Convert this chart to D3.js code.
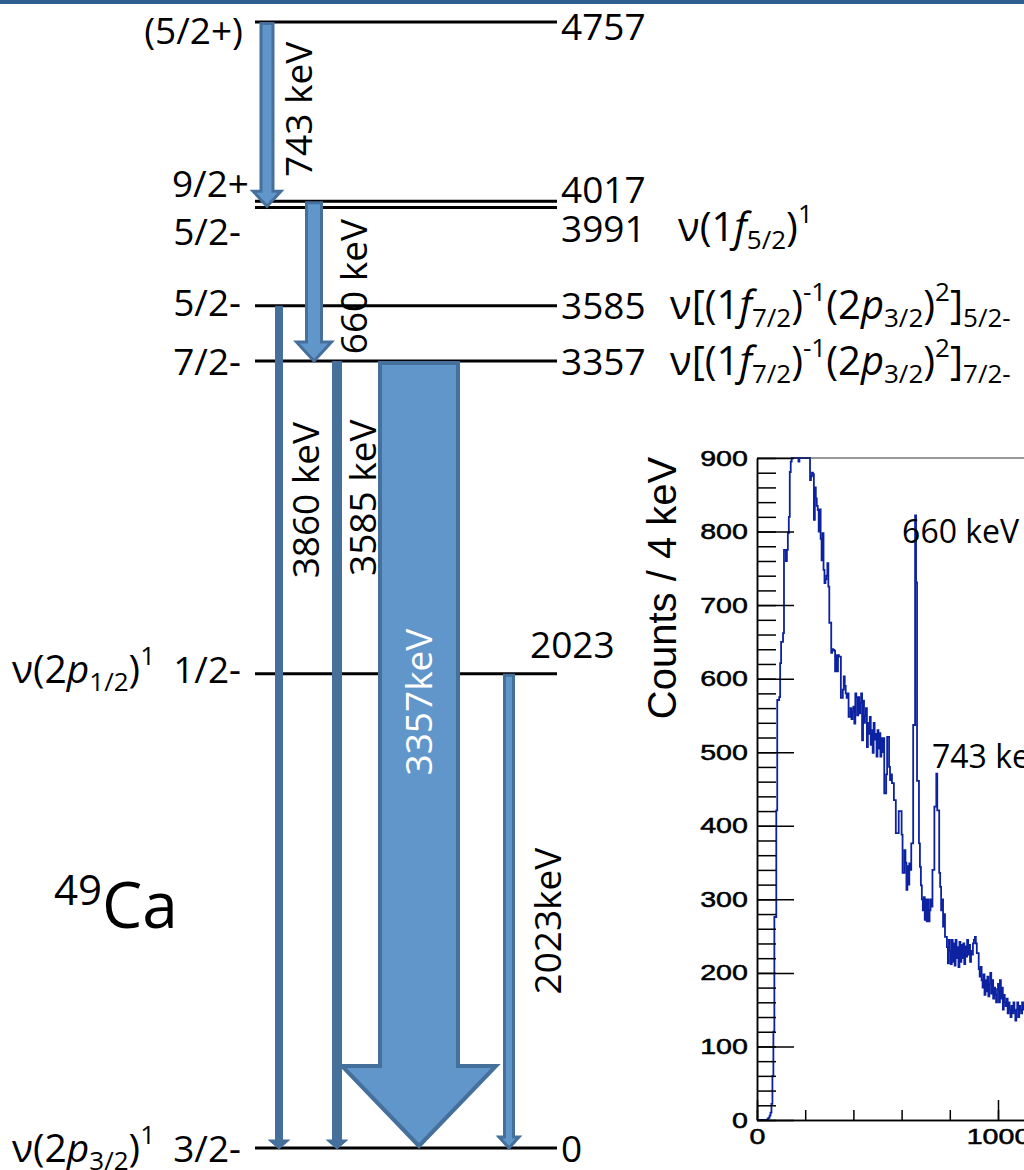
<!DOCTYPE html>
<html lang="en">
<head>
<meta charset="UTF-8">
<title>49Ca level scheme</title>
<script src="https://d3js.org/d3.v7.min.js"></script>
<style>
  body { margin: 0; background: #fff; }
  svg { display: block; }
  .scheme text { font-family: "Open Sans", "Noto Sans", sans-serif; fill: #000; }
  .spec .tick text { font-family: "Liberation Sans", Arial, sans-serif; font-size: 22px; fill: #000; stroke: #000; stroke-width: 0.5px; }
</style>
</head>
<body>
<svg width="1024" height="1170"></svg>
<script>
// ---- level scheme data ----
const levelEnergy = [4757, 4017, 3991, 3585, 3357, 2023, 0];
const levelSpin = ["(5/2+)", "9/2+", "5/2-", "5/2-", "7/2-", "1/2-", "3/2-"];
const levelLabel = ["4757", "4017", "3991", "3585", "3357", "2023", "0"];

// configuration labels, pieces: "" normal, "i" italic, "b" subscript, "p" superscript
const configRightEnergy = [3991, 3585, 3357];
const configRightParts = [
  [["ν(1", ""], ["f", "i"], ["5/2", "b"], [")", ""], ["1", "p"]],
  [["ν[(1", ""], ["f", "i"], ["7/2", "b"], [")", ""], ["-1", "p"], ["(2", ""], ["p", "i"], ["3/2", "b"], [")", ""], ["2", "p"], ["]", ""], ["5/2-", "b"]],
  [["ν[(1", ""], ["f", "i"], ["7/2", "b"], [")", ""], ["-1", "p"], ["(2", ""], ["p", "i"], ["3/2", "b"], [")", ""], ["2", "p"], ["]", ""], ["7/2-", "b"]]
];
const configLeftEnergy = [2023, 0];
const configLeftParts = [
  [["ν(2", ""], ["p", "i"], ["1/2", "b"], [")", ""], ["1", "p"]],
  [["ν(2", ""], ["p", "i"], ["3/2", "b"], [")", ""], ["1", "p"]]
];

const gammaFrom = [4757, 4017, 3585, 3357, 3357, 2023];
const gammaTo = [4017, 3357, 0, 0, 0, 0];
const gammaLabel = ["743 keV", "660 keV", "3860 keV", "3585 keV", "3357keV", "2023keV"];

// ---- spectrum data (counts per 4 keV bin, starting at 0 keV) ----
const binWidth = 4;
const counts = [
  0, 0, 0, 0, 0, 0, 0, 0, 0, 0, 0, 2, 3, 6, 10, 22, 60, 120, 276, 276, 421, 571, 571, 575, 621,
  650, 650, 662, 775, 775, 760, 775, 798, 820, 881, 895, 925, 940, 955, 950, 965, 950, 930, 895, 920, 940, 950, 945, 935, 930,
  925, 920, 915, 910, 905, 870, 875, 880, 878, 816, 860, 845, 835, 829, 800, 830, 790, 761, 798, 748, 730, 735, 740, 757, 725,
  676, 676, 635, 640, 639, 638, 610, 632, 610, 632, 630, 630, 574, 574, 585, 603, 590, 580, 574, 580, 548, 548, 560, 545, 555,
  562, 539, 580, 575, 550, 575, 553, 567, 580, 516, 570, 540, 549, 560, 507, 540, 525, 548, 510, 530, 499, 540, 517, 525, 494,
  530, 505, 526, 494, 519, 500, 519, 444, 444, 470, 521, 521, 480, 462, 470, 458, 458, 435, 435, 390, 390, 390, 420, 420, 420,
  388, 336, 336, 367, 350, 313, 345, 320, 349, 340, 376, 376, 537, 537, 822, 731, 461, 461, 376, 344, 319, 300, 285, 303, 272,
  300, 270, 300, 270, 285, 300, 290, 340, 340, 426, 426, 471, 421, 421, 336, 317, 285, 300, 263, 280, 249, 249, 235, 213, 245,
  230, 212, 245, 215, 240, 210, 245, 220, 235, 208, 242, 215, 238, 220, 240, 212, 236, 222, 245, 225, 238, 215, 230, 225, 240,
  245, 249, 240, 227, 227, 205, 195, 208, 190, 180, 198, 170, 190, 175, 195, 168, 185, 200, 172, 190, 165, 180, 170, 160, 178,
  185, 160, 190, 165, 180, 150, 170, 160, 155, 165, 145, 160, 150, 140, 155, 145, 160, 148, 135, 150, 160, 140, 155, 150, 145, 160, 150, 155
];
const yMajorTicks = d3.range(0, 901, 100);
const yMinorTicks = d3.range(0, 901, 20);
const xMajorTicks = [0, 1000];
const xMinorTicks = d3.range(0, 1001, 200);
const peakLabels = ["660 keV", "743 keV"];
const peakLabelAt = [[602, 784], [726, 478]]; // keV, counts

// ---- layout ----
const dark = "#46709c", light = "#6096ca";
const arrowLayout = [
  {x: 267, shaft: 15, head: 31, headLen: 15, stroke: 3, solid: false, tipPad: 5, lx: 32, lf: 0.47},
  {x: 314, shaft: 18, head: 38, headLen: 19, stroke: 3, solid: false, tipPad: 0, lx: 40, lf: 0.53},
  {x: 279, shaft: 8, head: 22, headLen: 9, stroke: 1, solid: true, tipPad: 1, lx: 27, lf: 0.23},
  {x: 337, shaft: 10, head: 22, headLen: 9, stroke: 1, solid: true, tipPad: 1, lx: 26, lf: 0.173},
  {x: 419, shaft: 82, head: 158, headLen: 80, stroke: 4, solid: false, tipPad: -2, lx: 0, lf: 0.433, white: true},
  {x: 509, shaft: 12, head: 23, headLen: 11, stroke: 3, solid: false, tipPad: 0, lx: 39, lf: 0.52}
];
const energyShift = [5, -12, 21, 0, 1, -29, 1];
const spinShift = [9, -18, 24, -3, 1, -4, 1];

const svg = d3.select("svg");
svg.append("rect").attr("x", 0).attr("y", 0).attr("width", 1024).attr("height", 4).attr("fill", "#2f5f8f");

const scheme = svg.append("g").attr("class", "scheme");
const yE = d3.scaleLinear().domain([0, 3357, 4757]).range([1148, 361, 22]);
const lineX = [255, 557];

// level lines
scheme.selectAll("line.level").data(levelEnergy).join("line")
  .attr("class", "level")
  .attr("x1", lineX[0]).attr("x2", lineX[1])
  .attr("y1", d => yE(d)).attr("y2", d => yE(d))
  .attr("stroke", "#000").attr("stroke-width", 3);

// energy labels
scheme.selectAll("text.energy").data(levelEnergy).join("text")
  .attr("class", "energy")
  .attr("x", d => d === 2023 ? 530 : 561)
  .attr("y", (d, i) => yE(d) + energyShift[i])
  .attr("dy", "0.36em")
  .attr("font-size", 37)
  .text((d, i) => levelLabel[i]);

// spin labels
scheme.selectAll("text.spin").data(levelEnergy).join("text")
  .attr("class", "spin")
  .attr("x", (d, i) => i === 1 ? 249 : i === 0 ? 243 : 241)
  .attr("y", (d, i) => yE(d) + spinShift[i])
  .attr("dy", "0.36em")
  .attr("text-anchor", "end")
  .attr("font-size", 37)
  .text((d, i) => levelSpin[i]);

function richText(text, parts) {
  let shift = 0;
  parts.forEach(([t, s]) => {
    const target = s === "b" ? 8 : s === "p" ? -18 : 0;
    const ts = text.append("tspan").text(t).attr("dy", target - shift);
    if (s === "b" || s === "p") ts.attr("font-size", 26);
    if (s === "i") ts.attr("font-style", "italic");
    shift = target;
  });
}

configRightEnergy.forEach((e, i) => {
  const k = levelEnergy.indexOf(e);
  const t = scheme.append("text")
    .attr("x", i === 0 ? 678 : 670)
    .attr("y", yE(e) + energyShift[k] + 13)
    .attr("font-size", 40);
  richText(t, configRightParts[i]);
});
configLeftEnergy.forEach((e, i) => {
  const k = levelEnergy.indexOf(e);
  const t = scheme.append("text")
    .attr("x", 155)
    .attr("y", yE(e) + spinShift[k] + 13)
    .attr("text-anchor", "end")
    .attr("font-size", 39);
  richText(t, configLeftParts[i]);
});

// nucleus label
const nuc = scheme.append("text").attr("x", 54).attr("y", 928);
nuc.append("tspan").attr("font-size", 42).attr("dy", -23).text("49");
nuc.append("tspan").attr("font-size", 64).attr("dy", 23).text("Ca");

// gamma arrows
gammaFrom.forEach((from, i) => {
  const L = arrowLayout[i];
  const y0 = yE(from) + L.stroke / 2, y1 = yE(gammaTo[i]) + L.tipPad;
  const sw = (L.shaft - L.stroke) / 2, hw = (L.head - L.stroke) / 2, hl = L.headLen;
  const pts = [[L.x - sw, y0], [L.x + sw, y0], [L.x + sw, y1 - hl], [L.x + hw, y1 - hl],
               [L.x, y1], [L.x - hw, y1 - hl], [L.x - sw, y1 - hl]];
  scheme.append("polygon")
    .attr("points", pts.map(p => p.join(",")).join(" "))
    .attr("fill", L.solid ? dark : light)
    .attr("stroke", dark)
    .attr("stroke-width", L.stroke)
    .attr("stroke-linejoin", "miter");
  const ly = y0 + L.lf * (y1 - y0);
  scheme.append("text")
    .attr("transform", `translate(${L.x + L.lx},${ly}) rotate(-90)`)
    .attr("text-anchor", "middle")
    .attr("dy", "0.36em")
    .attr("font-size", 37)
    .style("fill", L.white ? "#fff" : "#000")
    .text(gammaLabel[i]);
});

// ---- spectrum ----
const spec = svg.append("g").attr("class", "spec");
const sx = d3.scaleLinear().domain([0, 1110]).range([757, 757 + 1110 * 0.241]);
const sy = d3.scaleLinear().domain([0, 900]).range([1120, 458]).clamp(true);

const pts = counts.map((c, i) => [i * binWidth, c]);
pts.push([counts.length * binWidth, counts[counts.length - 1]]);
spec.append("path")
  .datum(pts)
  .attr("fill", "none")
  .attr("stroke", "#0c22a0")
  .attr("stroke-width", 1.8)
  .attr("d", d3.line().x(d => sx(d[0])).y(d => sy(d[1])).curve(d3.curveStepAfter));

spec.append("line")
  .attr("x1", sx(0)).attr("x2", 1024).attr("y1", sy(900)).attr("y2", sy(900))
  .attr("stroke", "#333").attr("stroke-width", 1.2);

function styleAxis(g) {
  g.selectAll("path, line").attr("stroke", "#000").attr("stroke-width", 1.5);
  g.selectAll("text").attr("transform", "scale(1.3,1)");
}

spec.append("g").attr("transform", `translate(${sx(0)},0)`)
  .call(d3.axisLeft(sy).tickValues(yMinorTicks).tickSizeInner(-19).tickSizeOuter(0).tickFormat(""))
  .call(styleAxis);
spec.append("g").attr("transform", `translate(${sx(0)},0)`)
  .call(d3.axisLeft(sy).tickValues(yMajorTicks).tickSizeInner(-37).tickSizeOuter(0).tickPadding(7).tickFormat(d3.format("d")))
  .call(styleAxis);
spec.append("g").attr("transform", `translate(0,${sy(0)})`)
  .call(d3.axisBottom(sx).tickValues(xMinorTicks).tickSizeInner(-10).tickSizeOuter(0).tickFormat(""))
  .call(styleAxis);
spec.append("g").attr("transform", `translate(0,${sy(0)})`)
  .call(d3.axisBottom(sx).tickValues(xMajorTicks).tickSizeInner(-20).tickSizeOuter(0).tickPadding(8).tickFormat(d3.format("d")))
  .call(styleAxis);

spec.append("text")
  .attr("transform", `translate(676,588) rotate(-90)`)
  .attr("text-anchor", "middle")
  .attr("font-family", "'Liberation Sans', Arial, sans-serif")
  .attr("font-size", 40)
  .text("Counts / 4 keV");

spec.selectAll("text.peak").data(peakLabels).join("text")
  .attr("class", "peak")
  .attr("x", (d, i) => sx(peakLabelAt[i][0]))
  .attr("y", (d, i) => sy(peakLabelAt[i][1]))
  .attr("font-family", "'Open Sans', 'Noto Sans', sans-serif")
  .attr("font-size", 32)
  .text(d => d);
</script>
</body>
</html>
